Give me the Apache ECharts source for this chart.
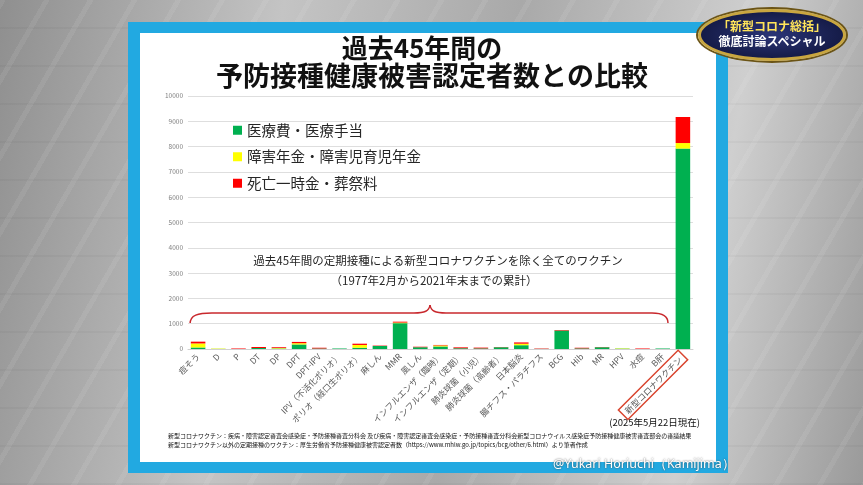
<!DOCTYPE html>
<html>

<head>
    <meta charset="utf-8" />
    <title>予防接種健康被害認定者数</title>
    <script src="https://cdn.jsdelivr.net/npm/echarts@6/dist/echarts.min.js"></script>
    <style>
        body { margin: 0; width: 863px; height: 485px; overflow: hidden; position: relative;
            background: linear-gradient(100deg, #8f8f8f 0%, #c4c4c4 30%, #a9a9a9 55%, #cfcfcf 80%, #9a9a9a 100%);
            font-family: "Noto Sans CJK JP", sans-serif; }
        #pattern { position: absolute; left: 0; top: 0; width: 863px; height: 485px;
            background-image: repeating-linear-gradient(120deg, rgba(255,255,255,0.07) 0 5px, rgba(0,0,0,0) 5px 38px),
                repeating-linear-gradient(0deg, rgba(0,0,0,0.03) 0 2px, rgba(0,0,0,0) 2px 38px); }
        #frame { position: absolute; left: 128px; top: 22px; width: 600px; height: 451px; background: #22a9e1; }
        #slide { position: absolute; left: 140px; top: 33px; width: 576px; height: 429px; background: #ffffff; }
        #main { position: absolute; left: 0; top: 0; width: 863px; height: 485px; }
        #badge { position: absolute; left: 698px; top: 9px; width: 142px; height: 46px; border-radius: 50%;
            background: radial-gradient(ellipse at center, #2b3577 0%, #141a45 75%);
            border: 3px solid #c9a640; box-shadow: 0 0 0 2px #6b5416; text-align: center; }
        #badge .l1 { color: #ffe45a; font-size: 12px; font-weight: bold; margin-top: 6px; line-height: 15px; }
        #badge .l2 { color: #ffffff; font-size: 12px; font-weight: bold; line-height: 15px; }
        #credit { position: absolute; left: 553px; top: 455px; color: #ffffff; font-size: 12.5px;
            font-family: "Noto Sans", sans-serif; text-shadow: 0 0 2px #444; }
    </style>
</head>

<body>
    <div id="pattern"></div>
    <div id="frame"></div>
    <div id="slide"></div>
    <div id="main"></div>
    <div id="badge">
        <div class="l1">「新型コロナ総括」</div>
        <div class="l2">徹底討論スペシャル</div>
    </div>
    <div id="credit">@Yukari Horiuchi（Kamijima）</div>
    <script type="text/javascript">
        var categories = [
            "痘そう", "D", "P", "DT", "DP", "DPT", "DPT-IPV",
            "IPV（不活化ポリオ）", "ポリオ（経口生ポリオ）", "麻しん", "MMR", "風しん",
            "インフルエンザ（臨時）", "インフルエンザ（定期）", "肺炎球菌（小児）", "肺炎球菌（高齢者）",
            "日本脳炎", "腸チフス・パラチフス", "BCG", "Hib", "MR", "HPV", "水痘", "B肝",
            "新型コロナワクチン",
        ];
        var seriesNames = ["医療費・医療手当", "障害年金・障害児育児年金", "死亡一時金・葬祭料"];
        // values
        var medical = [60, 5, 0, 40, 20, 180, 20, 20, 50, 120, 1020, 70, 100, 30, 25, 70, 150, 5, 730, 25, 70, 15, 0, 20, 7920];
        var disability = [160, 15, 0, 0, 20, 50, 0, 0, 110, 0, 25, 0, 40, 0, 0, 0, 60, 0, 0, 0, 0, 15, 0, 0, 220];
        var death = [70, 0, 20, 40, 30, 50, 30, 0, 50, 15, 35, 20, 20, 35, 30, 10, 50, 15, 20, 25, 10, 0, 20, 0, 1030];
        var yTicks = { min: 0, max: 10000, interval: 1000 };

        var myChart = echarts.init(document.getElementById("main"));
        var font = '"Noto Sans CJK JP", sans-serif';
        var braceStyle = { stroke: "#c8282d", lineWidth: 1.5, fill: null };

        var option = {
            animation: false,
            textStyle: { fontFamily: font },
            legend: {
                orient: "vertical",
                left: 228,
                top: 118,
                icon: "rect",
                itemWidth: 9,
                itemHeight: 9,
                itemGap: 12,
                textStyle: { fontSize: 14.5, color: "#262626", fontFamily: font },
                data: seriesNames,
            },
            grid: { left: 188, right: 170, top: 96, bottom: 136 },
            xAxis: {
                type: "category",
                data: categories,
                axisTick: { show: false },
                axisLine: { lineStyle: { color: "#d0d0d0" } },
                axisLabel: {
                    interval: 0,
                    rotate: 45,
                    fontSize: 8.5,
                    color: "#595959",
                    margin: 6,
                    formatter: function (v) {
                        return v == "新型コロナワクチン" ? "{box|" + v + "}" : v;
                    },
                    rich: {
                        box: { fontSize: 8.5, color: "#595959", borderColor: "#d9452f", borderWidth: 1.5, padding: [3, 4, 2, 4] },
                    },
                },
            },
            yAxis: {
                type: "value",
                min: yTicks.min,
                max: yTicks.max,
                interval: yTicks.interval,
                axisLabel: {
                    fontSize: 6.5, color: "#7f7f7f", margin: 5,
                    formatter: function (v) { return String(v); },
                },
                splitLine: { lineStyle: { color: "#dedede" } },
            },
            series: [
                { name: seriesNames[0], type: "bar", stack: "all", data: medical, barWidth: "72%", itemStyle: { color: "#00b050" } },
                { name: seriesNames[1], type: "bar", stack: "all", data: disability, itemStyle: { color: "#ffff00" } },
                { name: seriesNames[2], type: "bar", stack: "all", data: death, itemStyle: { color: "#ff0000" } },
            ],
            graphic: [
                { type: "text", x: 422, y: 35, style: { text: "過去45年間の", font: "bold 26px " + font, fill: "#111", textAlign: "center" } },
                { type: "text", x: 432, y: 62, style: { text: "予防接種健康被害認定者数との比較", font: "bold 27px " + font, fill: "#111", textAlign: "center" } },
                { type: "text", x: 438, y: 255, style: { text: "過去45年間の定期接種による新型コロナワクチンを除く全てのワクチン", font: "11.5px " + font, fill: "#262626", textAlign: "center" } },
                { type: "text", x: 434, y: 275, style: { text: "（1977年2月から2021年末までの累計）", font: "11.5px " + font, fill: "#262626", textAlign: "center" } },
                { type: "bezierCurve", shape: { x1: 190, y1: 324, cpx1: 190, cpy1: 315, cpx2: 198, cpy2: 313, x2: 212, y2: 313 }, style: braceStyle },
                { type: "line", shape: { x1: 212, y1: 313, x2: 414, y2: 313 }, style: braceStyle },
                { type: "bezierCurve", shape: { x1: 414, y1: 313, cpx1: 425, cpy1: 313, cpx2: 429, cpy2: 311, x2: 430, y2: 305 }, style: braceStyle },
                { type: "bezierCurve", shape: { x1: 430, y1: 305, cpx1: 431, cpy1: 311, cpx2: 435, cpy2: 313, x2: 446, y2: 313 }, style: braceStyle },
                { type: "line", shape: { x1: 446, y1: 313, x2: 652, y2: 313 }, style: braceStyle },
                { type: "bezierCurve", shape: { x1: 652, y1: 313, cpx1: 662, cpy1: 313, cpx2: 668, cpy2: 316, x2: 668, y2: 323 }, style: braceStyle },
                { type: "text", x: 700, y: 418, style: { text: "(2025年5月22日現在)", font: "9.5px " + font, fill: "#111", textAlign: "right" } },
                { type: "text", x: 168, y: 433, style: { text: "新型コロナワクチン：疾病・障害認定審査会感染症・予防接種審査分科会 及び疾病・障害認定審査会感染症・予防接種審査分科会新型コロナウイルス感染症予防接種健康被害審査部会の審議結果", font: "6px " + font, fill: "#111" } },
                { type: "text", x: 168, y: 442, style: { text: "新型コロナワクチン以外の定期接種のワクチン：厚生労働省予防接種健康被害認定者数（https://www.mhlw.go.jp/topics/bcg/other/6.html）より筆者作成", font: "6px " + font, fill: "#111" } },
            ],
        };
        myChart.setOption(option);
    </script>
</body>

</html>
